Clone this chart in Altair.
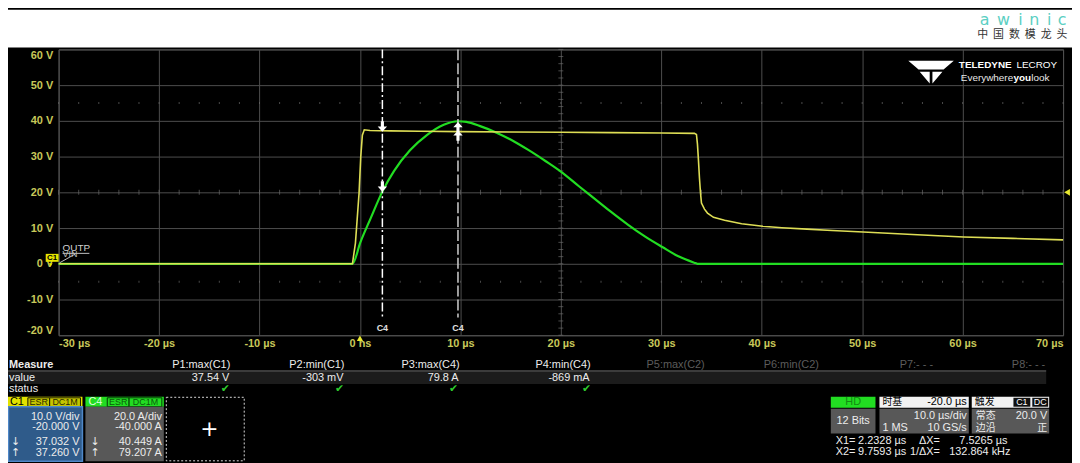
import altair as alt
import pandas as pd

# ---------------- data ----------------
# C1 : OUTP voltage (V) vs time (µs)
T_C1 = [-30, -0.75, -0.45, -0.09, 0.08, 0.24, 0.43, 1.0, 3, 6, 10, 15, 20, 25, 30,
        33.3, 33.5, 33.6, 33.7, 33.8, 33.9, 34.0, 34.3, 34.6, 35.2, 36.3, 38.0,
        40.1, 42.0, 44.5, 47.0, 50.1, 55.0, 60.1, 65.0, 70.0]
V_C1 = [0, 0, 5.8, 19.7, 30, 36, 37.5, 37.3, 37.2, 37.1, 37.0, 36.9, 36.8, 36.7, 36.6,
        36.5, 36.2, 33.5, 29, 24, 20, 17, 15.3, 14.2, 13.0, 12.2, 11.2,
        10.5, 10.1, 9.7, 9.3, 8.9, 8.2, 7.5, 7.1, 6.7]
# C4 : inductor current (A) vs time (µs)
T_C4 = [-30, -0.75, 0.04, 1.03, 2.23, 3.40, 4.98, 6.66, 8.34, 9.76, 10.6, 11.9, 13.6,
        15.3, 16.8, 18.5, 20.1, 21.8, 23.5, 25.1, 26.7, 28.4, 30.1, 31.7, 33.4, 33.6, 70]
I_C4 = [0, 0, 12.0, 25.0, 40.4, 52.0, 63.5, 72.0, 77.8, 79.8, 79.4, 77.2, 73.4,
        68.6, 63.6, 57.4, 51.2, 43.4, 35.8, 28.6, 21.8, 15.2, 9.4, 4.2, 0.4, 0, 0]

X_TICKS = [-30, -20, -10, 0, 10, 20, 30, 40, 50, 60, 70]
Y_TICKS = [-20, -10, 0, 10, 20, 30, 40, 50, 60]
X_MINOR = list(range(-30, 71, 2))
Y_MINOR = list(range(-20, 61, 2))

CURSOR_X1 = 2.2328
CURSOR_X2 = 9.7593
C1_AT = [37.032, 37.260]
C4_AT = [40.449, 79.207]
TRIG_LEVEL = 20.0
TRIG_TIME = 0.0

MEAS_NAMES = ["P1:max(C1)", "P2:min(C1)", "P3:max(C4)", "P4:min(C4)",
              "P5:max(C2)", "P6:min(C2)", "P7:- - -", "P8:- - -"]
MEAS_VALUES = ["37.54 V", "-303 mV", "79.8 A", "-869 mA"]
C1_INFO = ["10.0 V/div", "-20.000 V", "37.032 V", "37.260 V"]
C4_INFO = ["20.0 A/div", "-40.000 A", "40.449 A", "79.207 A"]

# ---------------- layout ----------------
W, H = 1012, 288          # plot area
OX, OY = 59, 48           # plot origin in page-image coordinates
FONT = "Liberation Sans"
CJK = "Noto Sans CJK SC"

XS = alt.Scale(domain=[-30, 70], nice=False, zero=False)
VS = alt.Scale(domain=[-20, 60], nice=False, zero=False)
AS = alt.Scale(domain=[-40, 120], nice=False, zero=False)

one = pd.DataFrame({"k": [0]})
layers = []


def txt(X, Y, s, color="#ececec", size=11, align="left", weight="normal", font=FONT,
        baseline="middle"):
    layers.append(alt.Chart(one).mark_text(
        text=s, color=color, fontSize=size, align=align, baseline=baseline,
        fontWeight=weight, font=font).encode(x=alt.value(X - OX), y=alt.value(Y - OY)))


def box(X1, Y1, X2, Y2, fill, stroke=None, sw=1.0, dash=None):
    kw = {}
    if fill is None:
        kw["fillOpacity"] = 0
        kw["fill"] = "black"
    else:
        kw["fill"] = fill
    if stroke:
        kw["stroke"] = stroke
        kw["strokeWidth"] = sw
    if dash:
        kw["strokeDash"] = dash
    layers.append(alt.Chart(one).mark_rect(**kw).encode(
        x=alt.value(X1 - OX), x2=alt.value(X2 - OX),
        y=alt.value(Y1 - OY), y2=alt.value(Y2 - OY)))


def seg(X1, Y1, X2, Y2, color, sw=1.0):
    layers.append(alt.Chart(one).mark_rule(color=color, strokeWidth=sw).encode(
        x=alt.value(X1 - OX), x2=alt.value(X2 - OX),
        y=alt.value(Y1 - OY), y2=alt.value(Y2 - OY)))


# white banner at the top
box(8, 8, 1080, 46, "#ffffff")

# ---------------- scope grid decorations ----------------
xaxis = alt.Axis(values=X_TICKS, title=None, grid=True, labelFlush=True,
                 labelExpr="datum.value == 0 ? '0 ns' : datum.value + ' µs'",
                 labelPadding=2, tickSize=0)
yaxis = alt.Axis(values=Y_TICKS, title=None, grid=True, labelFlush=True,
                 labelExpr="datum.value + ' V'", labelPadding=6, tickSize=0)

c1 = pd.DataFrame({"t": T_C1, "v": V_C1})
c4 = pd.DataFrame({"t": T_C4, "i": I_C4})
xminor = pd.DataFrame({"t": X_MINOR})
yminor = pd.DataFrame({"v": Y_MINOR})

# axes / grid carried by an invisible layer
layers.append(alt.Chart(c1).mark_line(opacity=0).encode(
    x=alt.X("t:Q", scale=XS, axis=xaxis), y=alt.Y("v:Q", scale=VS, axis=yaxis)))

# minor ticks on the centre horizontal line (20 V) and dotted rows
for lvl, sz in [(20, 5), (45, 2), (-5, 2)]:
    layers.append(alt.Chart(xminor).mark_tick(orient="vertical", size=sz, thickness=1,
                                               color="#6a6a6a").encode(
        x=alt.X("t:Q", scale=XS, axis=None),
        y=alt.YDatum(lvl, scale=VS, axis=None)))
# minor ticks on the centre vertical line (20 µs)
layers.append(alt.Chart(yminor).mark_tick(orient="horizontal", size=5, thickness=1,
                                           color="#6a6a6a").encode(
    x=alt.XDatum(20, scale=XS, axis=None),
    y=alt.Y("v:Q", scale=VS, axis=None)))

# ---------------- traces ----------------
layers.append(alt.Chart(c4).mark_line(color="#22dd22", strokeWidth=2.2,
                                      interpolate="monotone").encode(
    x=alt.X("t:Q", scale=XS, axis=None), y=alt.Y("i:Q", scale=AS, axis=None)))
layers.append(alt.Chart(c1).mark_line(color="#dede55", strokeWidth=1.6).encode(
    x=alt.X("t:Q", scale=XS, axis=None), y=alt.Y("v:Q", scale=VS, axis=None)))

# ---------------- cursors ----------------
layers.append(alt.Chart(one).mark_rule(color="#ffffff", strokeWidth=1.5,
                                       strokeDash=[9, 3, 2, 3]).encode(
    x=alt.XDatum(CURSOR_X1, scale=XS, axis=None), y=alt.value(0), y2=alt.value(318 - OY)))
layers.append(alt.Chart(one).mark_rule(color="#cfcfcf", strokeWidth=1.5,
                                       strokeDash=[11, 3]).encode(
    x=alt.XDatum(CURSOR_X2, scale=XS, axis=None), y=alt.value(0), y2=alt.value(318 - OY)))

DOWN = "M-0.3,-1 L0.3,-1 L0.3,0 L0.9,0 L0,1 L-0.9,0 L-0.3,0 Z"
UP = "M-0.3,1 L0.3,1 L0.3,0 L0.9,0 L0,-1 L-0.9,0 L-0.3,0 Z"
for cx, shape, off, yv, sc in [(CURSOR_X1, DOWN, -5, C1_AT[0], VS),
                               (CURSOR_X1, DOWN, -5, C4_AT[0], AS),
                               (CURSOR_X2, UP, 5, C4_AT[1], AS),
                               (CURSOR_X2, UP, 5, C1_AT[1], VS)]:
    layers.append(alt.Chart(one).mark_point(shape=shape, filled=True, color="#ffffff",
                                            opacity=1, size=110, yOffset=off).encode(
        x=alt.XDatum(cx, scale=XS, axis=None), y=alt.YDatum(yv, scale=sc, axis=None)))

for cx in [CURSOR_X1, CURSOR_X2]:
    layers.append(alt.Chart(one).mark_text(text="C4", color="#e0e0e0", fontSize=9,
                                           fontWeight="bold", font=FONT).encode(
        x=alt.XDatum(cx, scale=XS, axis=None), y=alt.value(329 - OY)))

# trigger markers
layers.append(alt.Chart(one).mark_point(shape="triangle-left", filled=True, color="#e8e830",
                                        opacity=1, size=45).encode(
    x=alt.value(1075 - OX), y=alt.YDatum(TRIG_LEVEL, scale=VS, axis=None)))
layers.append(alt.Chart(one).mark_point(shape="triangle-up", filled=True, color="#e8e830",
                                        opacity=1, size=40).encode(
    x=alt.XDatum(TRIG_TIME, scale=XS, axis=None), y=alt.value(339 - OY)))

# C1 badge and trace labels
box(46, 254, 59, 262, "#e6e600")
txt(52.5, 258.5, "C1", color="#000000", size=8, align="center", weight="bold")
layers.append(alt.Chart(one).mark_point(shape="triangle-down", filled=True, color="#e6e600",
                                        opacity=1, size=14).encode(
    x=alt.value(51 - OX), y=alt.value(265 - OY)))
txt(63, 248, "OUTP", color="#d0d0d0", size=10)
txt(63, 254, "VIN", color="#bdbdbd", size=9)
seg(63, 253.5, 90, 253.5, "#c0c0c0", 1)
seg(60, 263, 76, 254, "#c0c0c0", 1)

# ---------------- logos ----------------
for ch, cx in zip("awinic", [992, 1011, 1028, 1042, 1057, 1070]):
    txt(cx, 23, ch, color="#5ccfc3", size=16, align="center", weight="normal",
        font="DejaVu Sans", baseline="alphabetic")
for ch, cx in zip("中国数模龙头", [990, 1006, 1022, 1038, 1054, 1070]):
    txt(cx, 34, ch, color="#333333", size=11, align="center", font=CJK)

TELEDYNE = ("M-1,-0.5 L1,-0.5 L0.55,-0.12 L-0.55,-0.12 Z "
            "M-0.5,-0.02 L-0.06,-0.02 L-0.06,0.5 Z "
            "M0.5,-0.02 L0.06,-0.02 L0.06,0.5 Z")
layers.append(alt.Chart(one).mark_point(shape=TELEDYNE, filled=True, color="#ffffff",
                                        opacity=1, size=2100).encode(
    x=alt.value(938 - OX), y=alt.value(71 - OY)))
txt(966, 64, "TELEDYNE", color="#ffffff", size=10, weight="bold")
txt(1024, 64, "LECROY", color="#ffffff", size=10)
txt(968, 77, "Everywhere", color="#e8e8e8", size=10)
txt(1021, 77, "you", color="#ffffff", size=10, weight="bold")
txt(1039, 77, "look", color="#e8e8e8", size=10)

# ---------------- measurement table ----------------
box(8, 371, 1054, 373, "#3c3c3c")
box(8, 373, 1054, 385, "#1c1c1c")
txt(9, 366, "Measure", weight="bold")
txt(9, 379, "value")
txt(9, 390, "status")
NAME_RIGHT = [232, 347, 463, 595, 710, 825, 940, 1053]
for i, (nm, xr) in enumerate(zip(MEAS_NAMES, NAME_RIGHT)):
    txt(xr, 366, nm, color="#ececec" if i < 4 else "#5c5c5c", align="right")
for val, xr in zip(MEAS_VALUES, NAME_RIGHT[:4]):
    txt(xr - 1, 379, val, align="right")
for xc in [227, 342, 457, 591]:
    txt(xc, 390, "✔", color="#2ecc2e", size=11, align="center", font="DejaVu Sans")

# ---------------- channel boxes ----------------
box(8, 398, 83, 408, "#e2e200")
txt(10, 403.5, "C1", color="#000000", size=11)
box(28, 399, 50, 408, "#c4c400", stroke="#1e1e00", sw=1)
txt(39, 403.5, "ESR", color="#2a2a00", size=9, align="center")
box(50, 399, 81, 408, "#c4c400", stroke="#1e1e00", sw=1)
txt(65.5, 403.5, "DC1M", color="#2a2a00", size=9, align="center")
box(8.5, 408, 83, 463, "#2f5b8a", stroke="#4f88c8", sw=1.5)
for s, yy in zip(C1_INFO, [418, 428, 444, 455]):
    txt(80, yy, s, align="right")
txt(11, 444, "↓", size=11, font="DejaVu Sans")
txt(11, 455, "↑", size=11, font="DejaVu Sans")

box(86, 398, 165, 408, "#22dd22")
txt(89, 403.5, "C4", color="#dfffdf", size=11)
box(108, 399, 130, 408, "#22dd22", stroke="#063806", sw=1)
txt(119, 403.5, "ESR", color="#0b5b0b", size=9, align="center")
box(130, 399, 163, 408, "#22dd22", stroke="#063806", sw=1)
txt(146.5, 403.5, "DC1M", color="#0b5b0b", size=9, align="center")
box(86, 408, 165, 463, "#585858")
for s, yy in zip(C4_INFO, [418, 428, 444, 455]):
    txt(163, yy, s, align="right")
txt(91, 444, "↓", size=11, font="DejaVu Sans")
txt(91, 455, "↑", size=11, font="DejaVu Sans")

box(167.5, 398.5, 246, 462.5, None, stroke="#d8d8d8", sw=1, dash=[2, 2])
txt(211, 431, "+", color="#ffffff", size=22, align="center", font="DejaVu Sans")

# ---------------- acquisition panel ----------------
box(837, 398, 882, 409, "#22dd22")
txt(859.5, 403.5, "HD", color="#138a13", size=11, align="center")
box(837, 410, 882, 435, "#585858")
txt(859.5, 422, "12 Bits", align="center")

box(886, 398, 976, 409, "#f2f2f2")
txt(889, 403.5, "时基", color="#000000", size=10, font=CJK)
txt(974, 403.5, "-20.0 µs", color="#000000", align="right")
box(886, 410, 976, 435, "#585858")
txt(974, 417, "10.0 µs/div", align="right")
txt(889, 429, "1 MS")
txt(974, 429, "10 GS/s", align="right")

box(979, 398, 1057, 409, "#f2f2f2")
txt(982, 403.5, "触发", color="#000000", size=10, font=CJK)
box(1021, 399, 1038, 408, "#101010")
txt(1029.5, 403.5, "C1", color="#ffffff", size=9, align="center")
box(1040, 399, 1056, 408, "#101010")
txt(1048, 403.5, "DC", color="#ffffff", size=9, align="center")
box(979, 410, 1057, 435, "#585858")
txt(983, 417, "常态", size=10, font=CJK)
txt(1055, 417, "20.0 V", align="right")
txt(983, 429, "边沿", size=10, font=CJK)
txt(1055, 429, "正", size=10, align="right", font=CJK)

txt(842, 443, "X1=")
txt(913, 443, "2.2328 µs", align="right")
txt(947, 443, "ΔX=", align="right")
txt(1015, 443, "7.5265 µs", align="right")
txt(842, 454, "X2=")
txt(913, 454, "9.7593 µs", align="right")
txt(947, 454, "1/ΔX=", align="right")
txt(1018, 454, "132.864 kHz", align="right")

chart = alt.layer(*layers).resolve_scale(y="independent").resolve_axis(
    x="independent", y="independent").properties(
    width=W, height=H,
    autosize=alt.AutoSizeParams(type="none"),
    padding={"left": OX - 8, "top": OY - 8, "right": 1072 - (OX - 8) - W,
             "bottom": 455 - (OY - 8) - H},
    background="#000000",
).configure_view(stroke="#5c5c5c", strokeWidth=1).configure_axis(
    domain=False, ticks=False, gridColor="#4e4e4e", gridWidth=1,
    labelColor="#c8c85a", labelFont=FONT, labelFontSize=11, labelFontWeight="bold",
)

chart.save("out.html", embed_options={"renderer": "svg", "actions": False})
